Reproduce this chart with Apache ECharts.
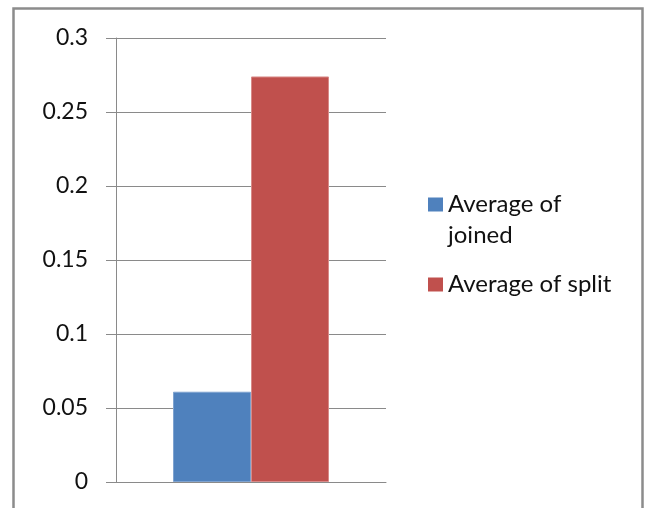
<!DOCTYPE html>
<html>
<head>
<meta charset="utf-8">
<script src="https://cdn.jsdelivr.net/npm/echarts@6/dist/echarts.min.js"></script>
<style>
  html, body { margin: 0; padding: 0; background: #fff; }
  #chart { width: 647px; height: 508px; }
</style>
</head>
<body>
<div id="chart"></div>
<script>
// Single category, two averaged measures side by side
const categories = [''];
const seriesNames = ['Average of joined', 'Average of split'];
const joinedValues = [0.061];
const splitValues = [0.274];
const seriesColors = ['#4F81BD', '#C0504D'];
const seriesEdges = ['#7fa3d0', '#d88a88'];

const yMin = 0;
const yMax = 0.3;
const yStep = 0.05;

const FONT = 'Lato';

const chart = echarts.init(document.getElementById('chart'), null, { renderer: 'canvas' });

const makeSeries = (name, values, i) => ({
  name: name,
  type: 'bar',
  data: values,
  barWidth: 78,
  barGap: '0%',
  itemStyle: {
    color: seriesColors[i],
    borderColor: seriesEdges[i],
    borderWidth: 1
  },
  emphasis: { disabled: true }
});

const legendBase = {
  orient: 'vertical',
  left: 428,
  padding: 0,
  itemWidth: 15,
  itemHeight: 14,
  icon: 'rect',
  selectedMode: false,
  itemStyle: { borderWidth: 0 }
};

chart.setOption({
  animation: false,
  backgroundColor: '#ffffff',
  graphic: [{
    type: 'rect',
    shape: { x: 13.5, y: 8.5, width: 629, height: 560 },
    style: { fill: 'none', stroke: '#8c8c8c', lineWidth: 2.5 },
    silent: true
  }],
  grid: { left: 116, right: 261, top: 38, bottom: 26, containLabel: false },
  xAxis: {
    type: 'category',
    data: categories,
    axisLine: { show: true, lineStyle: { color: '#8a8a8a', width: 1 } },
    axisTick: { show: false },
    axisLabel: { show: false },
    splitLine: { show: false }
  },
  yAxis: {
    type: 'value',
    min: yMin,
    max: yMax,
    interval: yStep,
    axisLine: { show: true, lineStyle: { color: '#8a8a8a', width: 1 } },
    axisTick: { show: true, length: 10, lineStyle: { color: '#8a8a8a' } },
    axisLabel: {
      margin: 28,
      color: '#111',
      fontFamily: FONT,
      fontSize: 23
    },
    splitLine: { show: true, lineStyle: { color: '#8a8a8a', width: 1 } }
  },
  legend: [Object.assign({}, legendBase, {
    data: [seriesNames[0]],
    top: 158,
    // leading blank line keeps the swatch level with the first text line
    formatter: (n) => '\n' + n.replace(' of ', ' of\n'),
    textStyle: { fontFamily: FONT, fontSize: 24, color: '#111', lineHeight: 31 }
  }), Object.assign({}, legendBase, {
    data: [seriesNames[1]],
    top: 269,
    textStyle: { fontFamily: FONT, fontSize: 24, color: '#111', lineHeight: 31 }
  })],
  series: [
    makeSeries(seriesNames[0], joinedValues, 0),
    makeSeries(seriesNames[1], splitValues, 1)
  ]
});
</script>
</body>
</html>
